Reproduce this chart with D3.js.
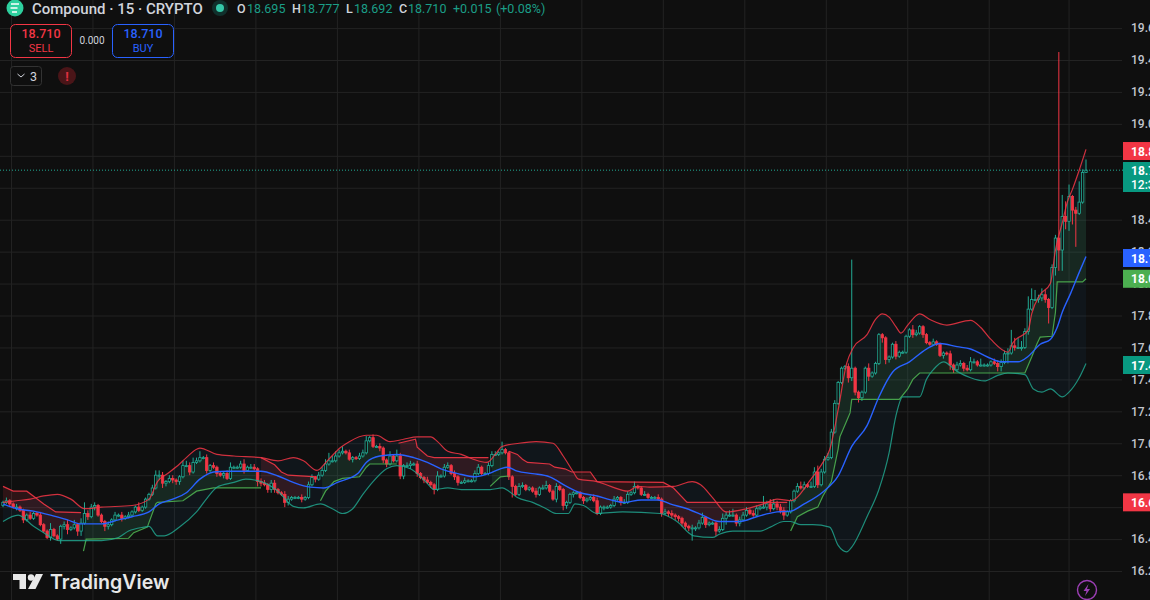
<!DOCTYPE html>
<html><head><meta charset="utf-8">
<style>html,body{margin:0;padding:0;background:#0f0f0f;overflow:hidden}svg{display:block}text{font-family:Roboto,"Liberation Sans",sans-serif}</style>
<script src="https://cdn.jsdelivr.net/npm/d3@7"></script></head><body>
<script>
const candleClose=[
16.63,16.64,16.62,16.60,16.60,16.58,16.52,16.55,16.53,16.56,
16.55,16.49,16.45,16.41,16.46,16.42,16.40,16.48,16.49,16.46,
16.47,16.49,16.45,16.50,16.56,16.54,16.60,16.61,16.55,16.51,
16.48,16.49,16.52,16.55,16.55,16.53,16.54,16.55,16.57,16.60,
16.58,16.60,16.65,16.68,16.72,16.80,16.80,16.75,16.76,16.78,
16.77,16.76,16.79,16.86,16.86,16.82,16.88,16.89,16.91,16.91,
16.83,16.86,16.85,16.81,16.80,16.81,16.78,16.85,16.85,16.85,
16.87,16.83,16.85,16.85,16.84,16.76,16.75,16.74,16.71,16.75,
16.71,16.69,16.68,16.63,16.65,16.66,16.66,16.66,16.65,16.66,
16.74,16.785,16.775,16.80,16.83,16.87,16.89,16.89,16.92,16.94,
16.95,16.94,16.90,16.91,16.905,16.92,16.94,17.015,17.035,16.98,
16.98,16.97,16.895,16.87,16.92,16.89,16.92,16.795,16.86,16.86,
16.87,16.87,16.81,16.785,16.77,16.755,16.74,16.71,16.795,16.795,
16.85,16.86,16.81,16.79,16.755,16.755,16.765,16.765,16.765,16.81,
16.85,16.81,16.81,16.86,16.93,16.93,16.94,16.96,16.94,16.79,
16.73,16.68,16.73,16.735,16.71,16.72,16.70,16.68,16.72,16.72,
16.735,16.70,16.65,16.73,16.71,16.61,16.63,16.68,16.69,16.69,
16.66,16.64,16.65,16.66,16.64,16.56,16.60,16.60,16.60,16.61,
16.65,16.66,16.63,16.63,16.68,16.69,16.73,16.72,16.68,16.68,
16.66,16.66,16.66,16.65,16.56,16.57,16.56,16.55,16.54,16.53,
16.50,16.48,16.47,16.47,16.47,16.50,16.535,16.49,16.50,16.50,
16.45,16.46,16.53,16.55,16.55,16.55,16.50,16.52,16.55,16.58,
16.56,16.55,16.59,16.60,16.60,16.62,16.59,16.62,16.60,16.58,
16.55,16.57,16.64,16.70,16.73,16.72,16.74,16.73,16.73,16.82,
16.74,16.82,16.90,16.91,17.07,17.25,17.38,17.47,17.48,17.41,
17.47,17.32,17.285,17.32,17.47,17.42,17.44,17.50,17.68,17.66,
17.525,17.54,17.62,17.545,17.57,17.57,17.67,17.71,17.68,17.69,
17.73,17.68,17.63,17.62,17.635,17.62,17.55,17.565,17.56,17.49,
17.46,17.49,17.50,17.47,17.46,17.51,17.51,17.49,17.49,17.49,
17.49,17.51,17.50,17.48,17.505,17.56,17.565,17.61,17.60,17.60,
17.60,17.70,17.84,17.90,17.90,17.91,17.93,17.90,17.85,18.10,
18.285,18.21,18.42,18.39,18.545,18.46,18.44,18.51,18.695,18.71];
const firstOpen=16.61;
const wickUp=[
.01,.02,.01,.01,.02,.01,.01,.01,.02,.01,
.01,.02,.01,.01,.04,.01,.01,.01,.02,.03,
.01,.03,.01,.03,.07,.02,.02,.02,.01,.01,
.01,.02,.01,.02,.01,.02,.01,.02,.01,.01,
.03,.01,.01,.01,.02,.03,.03,.02,.01,.02,
.02,.01,.01,.03,.03,.02,.03,.02,.04,.01,
.02,.01,.02,.01,.01,.01,.02,.03,.01,.01,
.02,.03,.01,.02,.02,.01,.02,.02,.01,.02,
.02,.01,.01,.02,.02,.01,.01,.01,.02,.01,
.02,.02,.01,.02,.02,.03,.05,.03,.03,.02,
.03,.01,.02,.01,.01,.02,.02,.03,.01,.02,
.01,.02,.01,.01,.03,.01,.04,.02,.01,.02,
.02,.01,.02,.01,.01,.02,.01,.01,.03,.01,
.02,.02,.01,.02,.01,.01,.02,.01,.01,.02,
.02,.01,.01,.02,.02,.02,.01,.05,.01,.01,
.01,.01,.02,.02,.01,.01,.01,.02,.01,.02,
.03,.01,.01,.02,.01,.01,.01,.01,.01,.01,
.01,.01,.01,.01,.02,.02,.01,.01,.01,.01,
.02,.01,.01,.02,.02,.01,.03,.01,.01,.02,
.01,.01,.01,.02,.01,.02,.01,.02,.01,.01,
.01,.01,.01,.02,.01,.02,.03,.01,.01,.01,
.01,.02,.03,.02,.03,.04,.01,.02,.02,.02,
.01,.02,.02,.01,.07,.02,.03,.03,.02,.02,
.02,.01,.01,.01,.02,.03,.02,.01,.03,.03,
.04,.02,.02,.03,.02,.02,.01,.01,.01,.02,
.68,.01,.01,.01,.01,.03,.01,.01,.01,.01,
.01,.01,.01,.02,.01,.01,.01,.01,.03,.02,
.01,.01,.01,.01,.02,.01,.01,.01,.01,.02,
.01,.02,.02,.01,.02,.03,.02,.01,.04,.01,
.01,.01,.02,.02,.02,.02,.03,.10,.05,.06,
.04,.02,.08,.07,.06,.02,.04,.03,.01,.02,
.02,1.165,.135,.095,.075,.01,.02,.13,.02,.067];
const wickDown=[
.01,.01,.02,.01,.02,.01,.02,.01,.01,.01,
.01,.01,.01,.01,.02,.01,.01,.03,.02,.03,
.01,.01,.03,.03,.01,.02,.01,.02,.01,.01,
.03,.02,.01,.01,.01,.02,.01,.01,.01,.01,
.01,.01,.01,.01,.01,.01,.03,.03,.02,.01,
.02,.02,.02,.01,.01,.02,.01,.01,.01,.01,
.02,.01,.01,.02,.01,.02,.01,.01,.01,.01,
.01,.02,.01,.01,.01,.03,.02,.01,.02,.02,
.02,.01,.01,.03,.02,.01,.01,.01,.02,.01,
.01,.01,.02,.01,.01,.01,.01,.01,.01,.01,
.01,.01,.01,.02,.01,.01,.01,.01,.01,.01,
.01,.02,.02,.02,.01,.01,.01,.02,.02,.01,
.02,.01,.02,.01,.02,.01,.02,.03,.01,.01,
.01,.01,.01,.02,.02,.01,.01,.01,.01,.01,
.01,.01,.01,.01,.01,.01,.01,.01,.01,.02,
.07,.01,.01,.01,.01,.01,.01,.02,.01,.01,
.01,.01,.01,.02,.01,.03,.02,.01,.02,.01,
.01,.02,.01,.01,.01,.01,.01,.02,.01,.01,
.01,.01,.02,.01,.01,.01,.01,.01,.01,.01,
.01,.01,.01,.01,.02,.01,.02,.02,.02,.02,
.02,.02,.02,.08,.02,.01,.01,.02,.01,.01,
.03,.01,.01,.04,.01,.01,.02,.02,.01,.01,
.01,.01,.01,.01,.01,.02,.02,.01,.02,.02,
.03,.01,.01,.01,.01,.01,.01,.01,.01,.01,
.02,.01,.01,.01,.01,.01,.01,.01,.01,.03,
.02,.02,.03,.02,.01,.03,.01,.01,.01,.03,
.03,.02,.01,.02,.01,.01,.01,.01,.02,.01,
.01,.02,.01,.01,.01,.01,.01,.02,.01,.03,
.02,.01,.01,.02,.01,.01,.01,.01,.01,.01,
.01,.01,.01,.03,.03,.01,.06,.01,.02,.01,
.02,.01,.02,.01,.01,.02,.02,.02,.10,.01,
.05,.13,.13,.05,.06,.09,.21,.01,.01,.003];

// Bollinger bands as [candle index, price]
const bandUpper=[[0,16.63],[4,16.64],[8,16.65],[12,16.67],[16,16.68],[20,16.65],[24,16.59],[29,16.60],[38,16.61],[43,16.65],[45.5,16.76],[48.5,16.81],[52,16.87],[54,16.91],[58,16.97],[63,16.93],[68,16.92],[76,16.91],[81,16.89],[85.5,16.91],[88.5,16.89],[92.5,16.83],[95.5,16.89],[99.5,16.975],[102,17.01],[107,17.05],[110,17.05],[114,17.01],[118,17.025],[122,17.04],[126,17.04],[128,17.01],[131,16.95],[135,16.93],[138.5,16.90],[142.5,16.88],[145,16.93],[147,16.98],[152,17.0],[157,17.01],[162,17.0],[165,16.92],[168,16.82],[169.5,16.775],[175,16.76],[179,16.73],[184,16.70],[187,16.73],[190.5,16.725],[197.5,16.73],[203,16.76],[205.5,16.74],[209,16.66],[213,16.57],[219,16.59],[224,16.62],[228,16.65],[232,16.64],[238,16.775],[241.5,16.88],[243.5,16.96],[246,17.21],[248.5,17.50],[250.5,17.60],[254.5,17.68],[257,17.775],[259,17.81],[261,17.79],[263,17.73],[264.5,17.69],[266.5,17.74],[270,17.81],[273,17.775],[278,17.74],[285,17.77],[288,17.725],[291,17.65],[296,17.57],[297.5,17.63],[302,17.71],[303,17.81],[305.5,17.93],[308.5,18.0],[310,18.21],[312,18.38],[313.5,18.51],[315,18.59],[317,18.71],[319,18.84]];
const bandLower=[[0,16.51],[4.5,16.55],[9,16.48],[12,16.44],[16.5,16.39],[22,16.39],[29,16.39],[34,16.41],[37,16.45],[41.5,16.475],[43,16.48],[45.5,16.42],[47.5,16.42],[52,16.475],[57,16.57],[61,16.68],[63,16.725],[68,16.755],[71.5,16.775],[76,16.76],[81,16.70],[85.5,16.605],[88.5,16.595],[93.5,16.62],[97,16.59],[100,16.56],[103,16.59],[106,16.68],[109,16.76],[113,16.84],[116,16.86],[120,16.84],[124.5,16.76],[127,16.71],[131,16.72],[135,16.71],[139.5,16.71],[143.5,16.71],[147,16.72],[149,16.70],[151.5,16.66],[156,16.63],[160,16.59],[163,16.56],[166.5,16.56],[168.5,16.62],[171,16.61],[175,16.56],[182.5,16.57],[193.5,16.56],[198.5,16.51],[203.5,16.42],[209,16.41],[211,16.43],[215,16.45],[223,16.45],[226,16.475],[230,16.51],[232,16.51],[235,16.49],[238.5,16.49],[243.5,16.475],[246,16.36],[248.5,16.32],[250,16.35],[254.5,16.54],[258,16.71],[261,16.94],[263,17.17],[265,17.29],[270,17.29],[272,17.40],[274,17.46],[277,17.51],[281,17.45],[285,17.41],[289,17.39],[293,17.425],[296,17.44],[301,17.43],[303.5,17.34],[306,17.32],[308.5,17.34],[312,17.29],[314,17.32],[317,17.41],[319,17.50]];
const bandBasis=[[0,16.62],[4,16.59],[9,16.575],[14,16.55],[19,16.52],[23,16.495],[29,16.495],[34,16.52],[38,16.54],[43,16.57],[46,16.62],[50,16.65],[54,16.69],[58,16.775],[62,16.82],[66,16.825],[76,16.825],[81,16.795],[85.5,16.755],[90.5,16.725],[94.5,16.72],[98.5,16.755],[104.5,16.81],[107,16.88],[111,16.92],[116,16.93],[121,16.91],[125,16.88],[129,16.84],[134,16.81],[139,16.79],[143,16.81],[146.5,16.84],[148.5,16.85],[151.5,16.825],[156,16.81],[161,16.79],[166,16.73],[170,16.69],[175,16.67],[179,16.645],[183,16.63],[188,16.645],[193,16.645],[196.5,16.62],[201.5,16.59],[206,16.55],[211,16.51],[217,16.51],[222,16.54],[228,16.57],[232,16.575],[236,16.62],[241.5,16.695],[246,16.795],[250,16.98],[254.5,17.11],[258,17.29],[262,17.445],[267,17.51],[272,17.59],[276,17.625],[281,17.605],[285,17.59],[290,17.54],[294,17.51],[299,17.51],[302,17.545],[305.5,17.62],[308.5,17.65],[310.5,17.725],[312,17.82],[314.5,17.94],[317,18.07],[319,18.17]];
// Stepped trend line, each run [candle index, price]
const trendRed=[
[[0,16.73],[3,16.70],[7,16.70],[9.5,16.66],[12,16.62],[15.5,16.57],[23,16.565]],
[[76,16.91],[80,16.865],[82,16.82],[84,16.80],[92.5,16.79]],
[[116.5,17.0],[121.5,17.025],[122,16.975],[125,16.92],[127,16.91],[143,16.91]],
[[149,16.95],[151.5,16.93],[153,16.90],[154.5,16.88],[161,16.87],[162.5,16.85],[165.5,16.84],[167.5,16.82],[173,16.82],[175,16.76],[194.5,16.755],[197.5,16.72],[201.5,16.63],[231,16.63]]];
const trendGreen=[
[[23.7,16.325],[24.5,16.40],[25,16.40],[37,16.405],[38.5,16.44],[42.5,16.475],[45,16.62],[45.5,16.63],[53,16.64],[55,16.67],[57,16.70],[62,16.72],[76,16.72]],
[[93.5,16.64],[95,16.70],[97.5,16.76],[100,16.78],[105,16.79],[107,16.85],[108,16.87],[116,16.87]],
[[143.5,16.73],[146.5,16.79],[149,16.795]],
[[232,16.45],[234,16.54],[237,16.575],[240,16.6],[241.5,16.67],[244,16.76],[246,16.965],[246.5,17.04],[248.5,17.14],[249.5,17.19],[250,17.275],[264,17.275],[266.5,17.34],[268,17.40],[270,17.44],[301,17.44],[303,17.54],[304.5,17.62],[305.5,17.665],[309,17.67],[310,17.82],[310.5,18.01],[318,18.01],[319,18.03]]];
const priceTicks=[19.6,19.4,19.2,19.0,18.8,18.6,18.4,18.2,18.0,17.8,17.6,17.4,17.2,17.0,16.8,16.6,16.4,16.2];
const gridIndexes=[2.5,26.5,50.5,74.5,98.5,122.5,146.5,170.5,194.5,218.5,242.5,266.5,290.5,314];
const lastPrice=18.71;
const axisBadges=[
 {value:18.83,label:"18.83",fill:"#f23645"},
 {value:18.16,label:"18.16",fill:"#2962ff"},
 {value:18.03,label:"18.03",fill:"#4caf50"},
 {value:17.49,label:"17.49",fill:"#089981"},
 {value:16.63,label:"16.63",fill:"#f23645"}];
const legendParts=[["O","18.695",237,247],["H","18.777",292,301],["L","18.692",346,354],["C","18.710",399,408]];

const W=1150,H=600;
const x=d3.scaleLinear().domain([0,319]).range([3,1086]);
const y=d3.scaleLinear().domain([19.4,16.2]).range([60,571]);
const bw=2.4;
const candles=candleClose.map((c,i)=>{const o=i?candleClose[i-1]:firstOpen;
 return {i,o,c,h:Math.max(o,c)+wickUp[i],l:Math.min(o,c)-wickDown[i]};});
const UP="#22ab94",DN="#f23645";

const svg=d3.select("body").append("svg").attr("width",W).attr("height",H).style("background","#0f0f0f");
// grid
const gridG=svg.append("g").attr("class","grid");
gridG.selectAll("line.v").data(gridIndexes).join("line").attr("class","v")
 .attr("x1",d=>x(d)).attr("x2",d=>x(d)).attr("y1",0).attr("y2",H).attr("stroke","#232323");
const gridAxis=svg.append("g").call(d3.axisRight(y).tickValues(priceTicks).tickSize(1122).tickFormat(""));
gridAxis.select(".domain").remove();
gridAxis.selectAll("line").attr("stroke","#232323");

// band fill
const at=pts=>d3.scaleLinear().domain(pts.map(p=>p[0])).range(pts.map(p=>p[1]));
const upperAt=at(bandUpper),lowerAt=at(bandLower);
svg.append("path").datum(d3.range(0,320)).attr("fill","rgba(33,150,243,0.055)")
 .attr("d",d3.area().x(i=>x(i)).y0(i=>y(lowerAt(i))).y1(i=>y(upperAt(i))));
// trend fills
const mid=i=>(candles[i].o+candles[i].c)/2;
function trendFill(run,color){const f=at(run);
 const idx=d3.range(Math.ceil(run[0][0]),Math.floor(run[run.length-1][0])+1);
 svg.append("path").datum(idx).attr("fill",color)
  .attr("d",d3.area().x(i=>x(i)).y0(i=>y(f(i))).y1(i=>y(mid(i))));}
trendRed.forEach(r=>trendFill(r,"rgba(242,54,69,0.14)"));
trendGreen.forEach(r=>trendFill(r,"rgba(76,175,80,0.12)"));

// candles
const cg=svg.append("g");
cg.selectAll("line").data(candles).join("line")
 .attr("x1",d=>x(d.i)).attr("x2",d=>x(d.i)).attr("y1",d=>y(d.h)).attr("y2",d=>y(d.l))
 .attr("stroke",d=>d.c>=d.o?UP:DN).attr("stroke-width",1);
cg.selectAll("rect").data(candles).join("rect")
 .attr("x",d=>x(d.i)-bw/2).attr("width",bw)
 .attr("y",d=>y(Math.max(d.o,d.c))).attr("height",d=>Math.max(1,Math.abs(y(d.o)-y(d.c))))
 .attr("fill",d=>d.c>=d.o?"#0f0f0f":DN).attr("stroke",d=>d.c>=d.o?UP:DN).attr("stroke-width",.8);

// lines
const ln=d3.line().x(d=>x(d[0])).y(d=>y(d[1]));
const smooth=d3.line().x(d=>x(d[0])).y(d=>y(d[1])).curve(d3.curveMonotoneX);
trendRed.forEach(r=>svg.append("path").attr("d",ln(r)).attr("fill","none").attr("stroke","#f23645").attr("stroke-width",1.2).attr("opacity",.9));
trendGreen.forEach(r=>svg.append("path").attr("d",ln(r)).attr("fill","none").attr("stroke","#4caf50").attr("stroke-width",1.2).attr("opacity",.9));
svg.append("path").attr("d",smooth(bandUpper)).attr("fill","none").attr("stroke","#f23645").attr("stroke-width",1.2).attr("opacity",.85);
svg.append("path").attr("d",smooth(bandLower)).attr("fill","none").attr("stroke","#22ab94").attr("stroke-width",1.2).attr("opacity",.8);
svg.append("path").attr("d",smooth(bandBasis)).attr("fill","none").attr("stroke","#2962ff").attr("stroke-width",1.4);

// last price line
svg.append("line").attr("x1",0).attr("x2",1123).attr("y1",y(lastPrice)).attr("y2",y(lastPrice))
 .attr("stroke",UP).attr("stroke-dasharray","1 2");

// right axis
const axisG=svg.append("g").attr("transform","translate(1122,0)")
 .call(d3.axisRight(y).tickValues(priceTicks).tickSize(0).tickPadding(9).tickFormat(d3.format(".1f")));
axisG.select(".domain").remove();
axisG.selectAll("text").attr("fill","#c2c5cd").attr("font-size",12).attr("font-weight",500).style("font-family","Roboto,sans-serif");

// axis badges
const bg=svg.append("g").selectAll("g").data(axisBadges).join("g")
 .attr("transform",d=>`translate(1123,${y(d.value)})`);
bg.append("rect").attr("x",0).attr("y",-9).attr("width",27).attr("height",18).attr("fill",d=>d.fill);
bg.append("text").attr("x",8).attr("y",4.5).attr("fill","#fff").attr("font-size",12).attr("font-weight",700).text(d=>d.label);
const lastG=svg.append("g").attr("transform",`translate(1123,162)`);
lastG.append("rect").attr("width",27).attr("height",30).attr("fill","#089981");
lastG.append("text").attr("x",8).attr("y",13).attr("fill","#fff").attr("font-size",12).attr("font-weight",700).text("18.710");
lastG.append("text").attr("x",8).attr("y",27).attr("fill","#fff").attr("font-size",12).attr("font-weight",500).text("12:34");

// header
const hd=svg.append("g");
hd.append("circle").attr("cx",15).attr("cy",8).attr("r",8.5).attr("fill","#2ecf9e");
hd.append("path").attr("d","M11 4h8M10.5 8h7M12 12h5").attr("stroke","#fff").attr("stroke-width",1.6).attr("fill","none");
hd.append("text").attr("x",32).attr("y",14).attr("fill","#d1d4dc").attr("font-size",15).attr("font-weight",500).text("Compound · 15 · CRYPTO");
hd.append("circle").attr("cx",220).attr("cy",8).attr("r",8).attr("fill","#10302c");
hd.append("circle").attr("cx",220).attr("cy",8).attr("r",4).attr("fill","#35c7a8");
legendParts.forEach(([k,v,xk,xv])=>{
 hd.append("text").attr("x",xk).attr("y",13).attr("fill","#d1d4dc").attr("font-size",12.5).attr("font-weight",500).text(k);
 hd.append("text").attr("x",xv).attr("y",13).attr("fill","#1b9e87").attr("font-size",12.5).text(v);});
hd.append("text").attr("x",453).attr("y",13).attr("fill","#1b9e87").attr("font-size",12.5).text("+0.015");
hd.append("text").attr("x",496).attr("y",13).attr("fill","#1b9e87").attr("font-size",12.5).text("(+0.08%)");

// sell/buy
function tradeBox(bx,color,val,lbl){
 hd.append("rect").attr("x",bx+.5).attr("y",24.5).attr("width",61).attr("height",33).attr("rx",5).attr("fill","#0f0f0f").attr("stroke",color);
 hd.append("text").attr("x",bx+31).attr("y",38).attr("text-anchor","middle").attr("fill",color).attr("font-size",12.5).attr("font-weight",500).text(val);
 hd.append("text").attr("x",bx+31).attr("y",52).attr("text-anchor","middle").attr("fill",color).attr("font-size",11).text(lbl);}
tradeBox(10,"#f23645","18.710","SELL");
tradeBox(112,"#2962ff","18.710","BUY");
hd.append("text").attr("x",92).attr("y",44).attr("text-anchor","middle").attr("fill","#d1d4dc").attr("font-size",10).text("0.000");
hd.append("rect").attr("x",10.5).attr("y",66.5).attr("width",31).attr("height",19).attr("rx",3).attr("fill","#0f0f0f").attr("stroke","#333");
hd.append("path").attr("d","M17.5 74l3.5 3 3.5-3").attr("fill","none").attr("stroke","#d1d4dc");
hd.append("text").attr("x",30).attr("y",80.5).attr("fill","#d1d4dc").attr("font-size",12.5).text("3");
hd.append("circle").attr("cx",67).attr("cy",76).attr("r",9).attr("fill","#4a1518");
hd.append("text").attr("x",67).attr("y",81).attr("text-anchor","middle").attr("fill","#e03040").attr("font-size",13).attr("font-weight",700).text("!");

// logo
const lg=svg.append("g");
lg.append("path").attr("d","M13 574h13v15h-6.5v-9H13z").attr("fill","#e8e8e8");
lg.append("circle").attr("cx",31).attr("cy",577.5).attr("r",3.2).attr("fill","#e8e8e8");
lg.append("path").attr("d","M36 574h7l-7.5 15h-7.5z").attr("fill","#e8e8e8");
lg.append("text").attr("x",50).attr("y",589).attr("fill","#e8e8e8").attr("font-size",19.6).attr("font-weight",600).style("font-family","Inter,Roboto,sans-serif").text("TradingView");

// bolt
const bolt=svg.append("g").attr("transform","translate(1087,590)");
bolt.append("circle").attr("r",9.5).attr("fill","none").attr("stroke","#9c3fb5").attr("stroke-width",1.4);
bolt.append("path").attr("d","M1.5-6L-3.5 1h3l-1.5 5 5-7h-3z").attr("fill","#9c3fb5");
</script></body></html>
